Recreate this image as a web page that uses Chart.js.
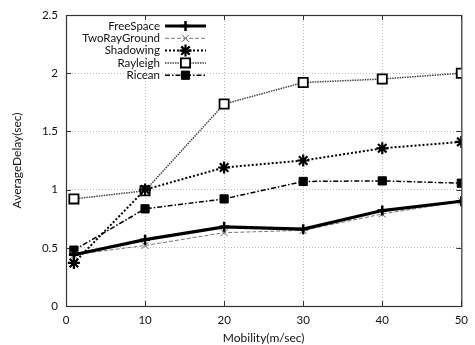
<!DOCTYPE html>
<html>
<head>
<meta charset="utf-8">
<script src="https://cdn.jsdelivr.net/npm/chart.js@4/dist/chart.umd.min.js"></script>
<style>
  html, body { margin: 0; padding: 0; background: #fff; }
  #wrap { width: 475px; height: 345px; }
</style>
</head>
<body>
<div id="wrap"><canvas id="grafico"></canvas></div>
<script>
// --- dados ---
const mobility = [1, 10, 20, 30, 40, 50];
const freeSpace = [0.44, 0.57, 0.68, 0.66, 0.82, 0.90];
const twoRayGround = [0.44, 0.52, 0.63, 0.65, 0.79, 0.90];
const shadowing = [0.37, 1.0, 1.19, 1.25, 1.355, 1.41];
const rayleigh = [0.92, 0.99, 1.735, 1.92, 1.95, 2.0];
const ricean = [0.48, 0.835, 0.92, 1.07, 1.075, 1.055];

const xTicks = [0, 10, 20, 30, 40, 50];
const yTicks = [0, 0.5, 1, 1.5, 2, 2.5];

const FONTE = 'Lato, "DejaVu Sans", sans-serif';

function pontos(valores) {
    return mobility.map((m, i) => ({ x: m, y: valores[i] }));
}

// legenda no estilo gnuplot (texto à direita, amostra de linha ao lado)
const legendaPlugin = {
    id: 'legendaGnuplot',
    afterDatasetsDraw(chart) {
        const ctx = chart.ctx;
        const textoX = 160;
        const linhaIni = 165;
        const linhaFim = 206;
        let y = 26;
        chart.data.datasets.forEach(ds => {
            ctx.save();
            ctx.font = '11.5px ' + FONTE;
            ctx.fillStyle = '#111';
            ctx.textAlign = 'right';
            ctx.textBaseline = 'middle';
            ctx.fillText(ds.label, textoX, y);

            ctx.strokeStyle = ds.borderColor;
            ctx.lineWidth = ds.borderWidth;
            ctx.setLineDash(ds.borderDash || []);
            ctx.beginPath();
            ctx.moveTo(linhaIni, y);
            ctx.lineTo(linhaFim, y);
            ctx.stroke();
            ctx.setLineDash([]);

            ctx.fillStyle = ds.pointBackgroundColor;
            ctx.strokeStyle = ds.pointBorderColor;
            ctx.lineWidth = ds.pointBorderWidth;
            Chart.helpers.drawPoint(ctx, {
                pointStyle: ds.pointStyle,
                radius: ds.pointRadius,
                borderWidth: ds.pointBorderWidth,
                rotation: 0
            }, (linhaIni + linhaFim) / 2, y);
            ctx.restore();
            y += 12.3;
        });
    }
};

// moldura e tracinhos internos
const molduraPlugin = {
    id: 'moldura',
    beforeDatasetsDraw(chart) {
        const { ctx, chartArea: a, scales } = chart;
        ctx.save();
        ctx.strokeStyle = '#333';
        ctx.lineWidth = 1;
        ctx.beginPath();
        xTicks.forEach(v => {
            const px = Math.round(scales.x.getPixelForValue(v)) + 0.5;
            ctx.moveTo(px, a.bottom); ctx.lineTo(px, a.bottom - 5);
            ctx.moveTo(px, a.top); ctx.lineTo(px, a.top + 5);
        });
        yTicks.forEach(v => {
            const py = Math.round(scales.y.getPixelForValue(v)) + 0.5;
            ctx.moveTo(a.left, py); ctx.lineTo(a.left + 5, py);
            ctx.moveTo(a.right, py); ctx.lineTo(a.right - 5, py);
        });
        ctx.stroke();
        ctx.lineWidth = 1.2;
        ctx.strokeRect(a.left + 0.5, a.top + 0.5, a.right - a.left, a.bottom - a.top);
        ctx.restore();
    }
};

const ctx = document.getElementById('grafico').getContext('2d');
const grafico = new Chart(ctx, {
    type: 'line',
    data: {
        datasets: [
            {
                label: 'FreeSpace',
                data: pontos(freeSpace),
                borderColor: '#000',
                borderWidth: 3.2,
                pointStyle: 'cross',
                pointRadius: 5,
                pointBorderWidth: 2.5,
                pointBorderColor: '#000',
                pointBackgroundColor: '#000'
            },
            {
                label: 'TwoRayGround',
                data: pontos(twoRayGround),
                borderColor: '#777',
                borderWidth: 1,
                borderDash: [4, 2],
                pointStyle: 'crossRot',
                pointRadius: 5,
                pointBorderWidth: 1,
                pointBorderColor: '#666',
                pointBackgroundColor: '#666'
            },
            {
                label: 'Shadowing',
                data: pontos(shadowing),
                borderColor: '#000',
                borderWidth: 2,
                borderDash: [2, 2],
                pointStyle: 'star',
                pointRadius: 6,
                pointBorderWidth: 2.2,
                pointBorderColor: '#000',
                pointBackgroundColor: '#000'
            },
            {
                label: 'Rayleigh',
                data: pontos(rayleigh),
                borderColor: '#444',
                borderWidth: 1.5,
                borderDash: [1.5, 1],
                pointStyle: 'rect',
                pointRadius: 6.5,
                pointBorderWidth: 1.8,
                pointBorderColor: '#000',
                pointBackgroundColor: '#fff'
            },
            {
                label: 'Ricean',
                data: pontos(ricean),
                borderColor: '#000',
                borderWidth: 1.5,
                borderDash: [5, 2, 1.5, 2],
                pointStyle: 'rect',
                pointRadius: 5.8,
                pointBorderWidth: 1,
                pointBorderColor: '#000',
                pointBackgroundColor: '#000'
            }
        ]
    },
    options: {
        responsive: true,
        maintainAspectRatio: false,
        animation: false,
        layout: { padding: { top: 15, right: 4, left: 0, bottom: 0 } },
        plugins: {
            legend: { display: false },
            tooltip: { enabled: false }
        },
        elements: { line: { tension: 0, fill: false } },
        scales: {
            x: {
                type: 'linear',
                min: 0,
                max: 50,
                afterBuildTicks: s => { s.ticks = xTicks.map(v => ({ value: v })); },
                afterFit: s => { s.height = 39; },
                grid: { color: '#bbb', drawTicks: false },
                border: { display: false, dash: [1, 2] },
                ticks: { color: '#111', padding: 7, maxRotation: 0, font: { family: FONTE, size: 11.5 } },
                title: {
                    display: true,
                    text: 'Mobility(m/sec)',
                    color: '#111',
                    padding: { top: 3, bottom: 0 },
                    font: { family: FONTE, size: 12 }
                }
            },
            y: {
                min: 0,
                max: 2.5,
                afterBuildTicks: s => { s.ticks = yTicks.map(v => ({ value: v })); },
                afterFit: s => { s.width = 66; },
                grid: { color: '#bbb', drawTicks: false },
                border: { display: false, dash: [1, 2] },
                ticks: {
                    color: '#111',
                    padding: 8,
                    font: { family: FONTE, size: 11.5 },
                    callback: v => String(v)
                },
                title: {
                    display: true,
                    text: 'AverageDelay(sec)',
                    color: '#111',
                    padding: { top: 10, bottom: 0 },
                    font: { family: FONTE, size: 12 }
                }
            }
        }
    },
    plugins: [molduraPlugin, legendaPlugin]
});
</script>
</body>
</html>
